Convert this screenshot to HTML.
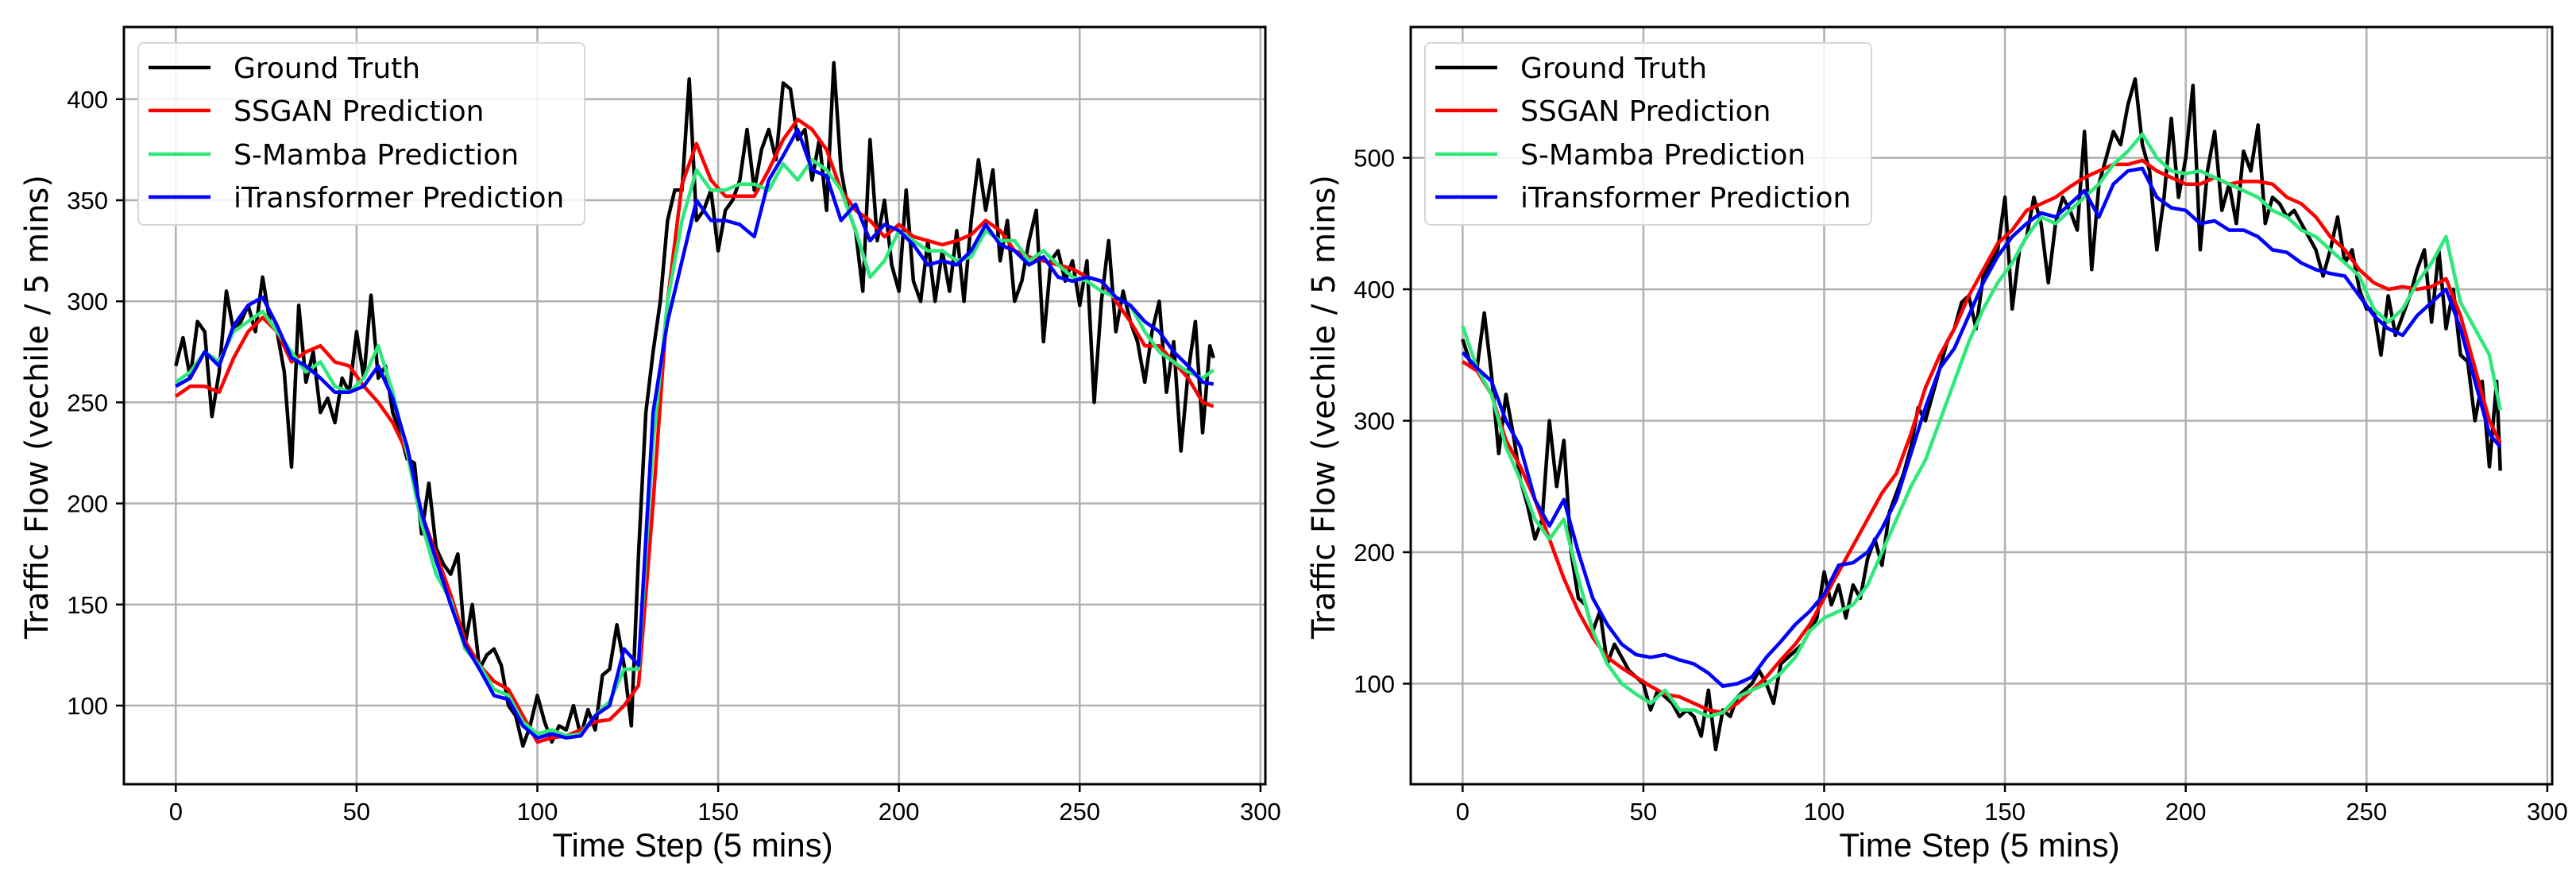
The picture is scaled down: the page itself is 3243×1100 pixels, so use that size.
<!DOCTYPE html>
<html><head><meta charset="utf-8"><style>
html,body{margin:0;padding:0;background:#fff;}
svg{display:block;}
.tick{font-family:"Liberation Sans Narrow","Liberation Sans",sans-serif;font-size:31px;fill:#000;}
.xl{font-family:"Liberation Sans Narrow","Liberation Sans",sans-serif;font-size:42px;fill:#000;}
.yl{font-family:"DejaVu Sans",sans-serif;font-size:40px;fill:#000;}
.lg{font-family:"DejaVu Sans",sans-serif;font-size:36px;fill:#000;}
</style></head><body>
<svg id="chart" width="3243" height="1100" viewBox="0 0 3243 1100" xmlns="http://www.w3.org/2000/svg"></svg>
<script>
// ===== Left chart data =====
const leftGtSteps = [0,2,4,6,8,10,12,14,16,18,20,22,24,26,28,30,32,34,36,38,40,42,44,46,48,50,52,54,56,58,60,62,64,66,68,70,72,74,76,78,80,82,84,86,88,90,92,94,96,98,100,102,104,106,108,110,112,114,116,118,120,122,124,126,128,130,132,134,136,138,140,142,144,146,148,150,152,154,156,158,160,162,164,166,168,170,172,174,176,178,180,182,184,186,188,190,192,194,196,198,200,202,204,206,208,210,212,214,216,218,220,222,224,226,228,230,232,234,236,238,240,242,244,246,248,250,252,254,256,258,260,262,264,266,268,270,272,274,276,278,280,282,284,286,287];
const leftGt = [268,282,262,290,285,243,265,305,285,290,298,285,312,290,285,265,218,298,260,275,245,252,240,262,255,285,262,303,262,268,245,235,222,220,185,210,178,170,165,175,130,150,118,125,128,120,100,95,80,90,105,92,82,90,88,100,85,98,88,115,118,140,120,90,175,245,275,300,340,355,355,410,340,345,355,325,345,350,360,385,355,375,385,370,408,405,380,385,360,380,345,418,365,345,335,305,380,330,350,318,305,355,310,300,330,300,325,305,335,300,340,370,345,365,320,340,300,310,330,345,280,320,325,310,320,298,320,250,300,330,285,305,290,280,260,285,300,255,280,226,265,290,235,278,272];
const predSteps = [0,4,8,12,16,20,24,28,32,36,40,44,48,52,56,60,64,68,72,76,80,84,88,92,96,100,104,108,112,116,120,124,128,132,136,140,144,148,152,156,160,164,168,172,176,180,184,188,192,196,200,204,208,212,216,220,224,228,232,236,240,244,248,252,256,260,264,268,272,276,280,284,287];
const leftSsgan = [253,258,258,255,272,285,292,285,270,275,278,270,268,258,250,240,225,195,175,155,132,120,112,108,95,82,84,85,88,92,93,100,110,200,300,358,378,360,352,352,352,365,380,390,385,375,355,345,340,332,338,332,330,328,330,333,340,335,325,322,320,318,316,312,310,300,290,278,278,270,262,250,248];
const leftMamba = [260,265,275,270,285,290,295,285,275,265,270,258,255,262,278,255,225,190,165,152,128,120,108,105,92,86,88,85,86,95,102,118,118,230,300,340,365,355,355,358,358,355,368,360,370,365,355,335,312,320,335,330,325,325,320,322,335,330,330,320,325,318,312,310,305,302,298,285,275,270,265,262,266];
const leftItrans = [258,262,275,268,288,298,302,288,272,268,262,255,255,258,268,252,228,195,172,150,130,118,105,103,90,84,86,84,85,95,100,128,120,245,290,320,350,340,340,338,332,360,372,385,365,362,340,348,330,338,335,328,318,320,318,325,338,328,325,318,322,312,310,312,310,302,298,290,285,275,268,260,259];
const leftYTicks = [100,150,200,250,300,350,400];
// ===== Right chart data =====
const rightGt = [362,345,340,382,335,275,320,290,255,235,210,225,300,250,285,200,165,160,140,155,115,130,120,110,105,100,80,95,90,85,75,80,75,60,95,50,80,75,90,95,100,110,100,85,115,120,125,130,140,150,185,160,175,150,175,165,195,210,190,230,245,260,280,310,300,320,340,360,370,390,395,370,410,420,430,470,385,430,440,470,450,405,450,470,460,445,520,415,480,500,520,510,540,560,510,490,430,470,530,470,500,555,430,490,520,460,480,450,505,490,525,450,470,465,455,460,450,440,430,410,430,455,420,430,400,385,385,350,395,365,380,395,415,430,375,430,370,400,350,345,300,330,265,330,262];
const rightSsgan = [345,338,320,285,265,240,210,180,155,135,120,112,105,98,92,90,85,80,78,85,95,105,118,130,145,165,185,205,225,245,260,290,325,350,370,395,415,435,445,460,465,470,478,485,490,495,495,498,490,485,480,480,485,480,482,482,480,470,465,455,440,430,415,405,400,402,400,402,408,380,340,300,283];
const rightMamba = [372,340,320,280,255,225,210,225,180,140,115,100,92,85,95,80,80,75,78,90,95,100,108,120,140,150,155,160,175,200,225,250,270,300,330,360,385,405,420,440,455,450,460,470,480,495,505,518,500,490,488,490,485,480,475,470,460,455,445,440,430,420,410,385,375,385,405,420,440,390,370,350,308];
const rightItrans = [352,340,330,300,280,240,220,240,200,165,145,130,122,120,122,118,115,108,98,100,105,120,132,145,155,168,190,192,200,218,240,275,310,340,355,380,405,425,440,450,458,455,465,475,455,480,490,492,470,462,460,450,452,445,445,440,430,428,420,415,412,410,395,380,370,365,380,390,400,370,330,290,280];
const rightYTicks = [100,200,300,400,500];
const xTicks = [0,50,100,150,200,250,300];
const legendLabels = ["Ground Truth","SSGAN Prediction","S-Mamba Prediction","iTransformer Prediction"];
const seriesColors = ["#000000","#ff0000","#2ee87a","#0000ff"];

const NS = "http://www.w3.org/2000/svg";
const svg = document.getElementById("chart");
function mk(tag, attrs, parent){
  const e = document.createElementNS(NS, tag);
  for (const k in attrs) e.setAttribute(k, attrs[k]);
  (parent||svg).appendChild(e);
  return e;
}

function drawPanel(ox, yMin, yMax, yTicks, series, idx){
  const L = ox + 156, R = ox + 1593, T = 34, B = 987;
  const xMin = -14.35, xMax = 301.35;
  const sx = v => L + (v - xMin) / (xMax - xMin) * (R - L);
  const sy = v => B - (v - yMin) / (yMax - yMin) * (B - T);
  const g = mk("g", {});
  
  
  xTicks.forEach(t => {
    const ln = mk("line", {x1:sx(t), x2:sx(t), y1:T, y2:B, stroke:"#b0b0b0", "stroke-width":2.5}, g);
    
    
  });
  yTicks.forEach(t => {
    const ln = mk("line", {x1:L, x2:R, y1:sy(t), y2:sy(t), stroke:"#b0b0b0", "stroke-width":2.5}, g);
    
    
  });
  series.forEach((s, i) => {
    const pts = s.x.map((xv, j) => sx(xv).toFixed(1) + "," + sy(s.y[j]).toFixed(1)).join(" ");
    const pl = mk("polyline", {points:pts, fill:"none", stroke:seriesColors[i], "stroke-width": 4.5, "stroke-linejoin":"round"}, g);
    
    
  });
  const fr = mk("rect", {x:L, y:T, width:R-L, height:B-T, fill:"none", stroke:"#000", "stroke-width":3}, g);
  
  
  xTicks.forEach(t => {
    mk("line", {x1:sx(t), x2:sx(t), y1:B, y2:B+10, stroke:"#000", "stroke-width":2.5}, g);
    const tx = mk("text", {x:sx(t), y:B+45, "text-anchor":"middle", class:"tick"}, g);
    tx.textContent = t;
    
    
  });
  yTicks.forEach(t => {
    mk("line", {x1:L-10, x2:L, y1:sy(t), y2:sy(t), stroke:"#000", "stroke-width":2.5}, g);
    const tx = mk("text", {x:L-20, y:sy(t)+11, "text-anchor":"end", class:"tick"}, g);
    tx.textContent = t;
    
    
  });
  const xt = mk("text", {x:ox+872, y:1078, "text-anchor":"middle", class:"xl"}, g);
  xt.textContent = "Time Step (5 mins)";
  
  
  const yt = mk("text", {x:0, y:0, "text-anchor":"middle", class:"yl", transform:"translate(" + (ox+60) + ",512) rotate(-90)"}, g);
  yt.textContent = "Traffic Flow (vechile / 5 mins)";
  
  
  const lg = mk("g", {}, g);
  
  
  mk("rect", {x:ox+174, y:54, width:562, height:229, rx:7, fill:"#fff", "fill-opacity":0.85, stroke:"#d6d6d6", "stroke-width":2}, lg);
  const rowsY = [85, 139, 194, 248];
  legendLabels.forEach((lab, i) => {
    const ent = mk("g", {}, lg);
    
    
    mk("line", {x1:ox+187, x2:ox+265, y1:rowsY[i], y2:rowsY[i], stroke:seriesColors[i], "stroke-width":4.5}, ent);
    const t = mk("text", {x:ox+294, y:rowsY[i]+13, class:"lg"}, ent);
    t.textContent = lab;
  });
}

drawPanel(0, 61.1, 435.7, leftYTicks, [
  {x:leftGtSteps, y:leftGt},
  {x:predSteps, y:leftSsgan},
  {x:predSteps, y:leftMamba},
  {x:predSteps, y:leftItrans}
], 'left');
drawPanel(1620, 23.5, 599.5, rightYTicks, [
  {x:leftGtSteps, y:rightGt},
  {x:predSteps, y:rightSsgan},
  {x:predSteps, y:rightMamba},
  {x:predSteps, y:rightItrans}
], 'right');
</script>
</body></html>
